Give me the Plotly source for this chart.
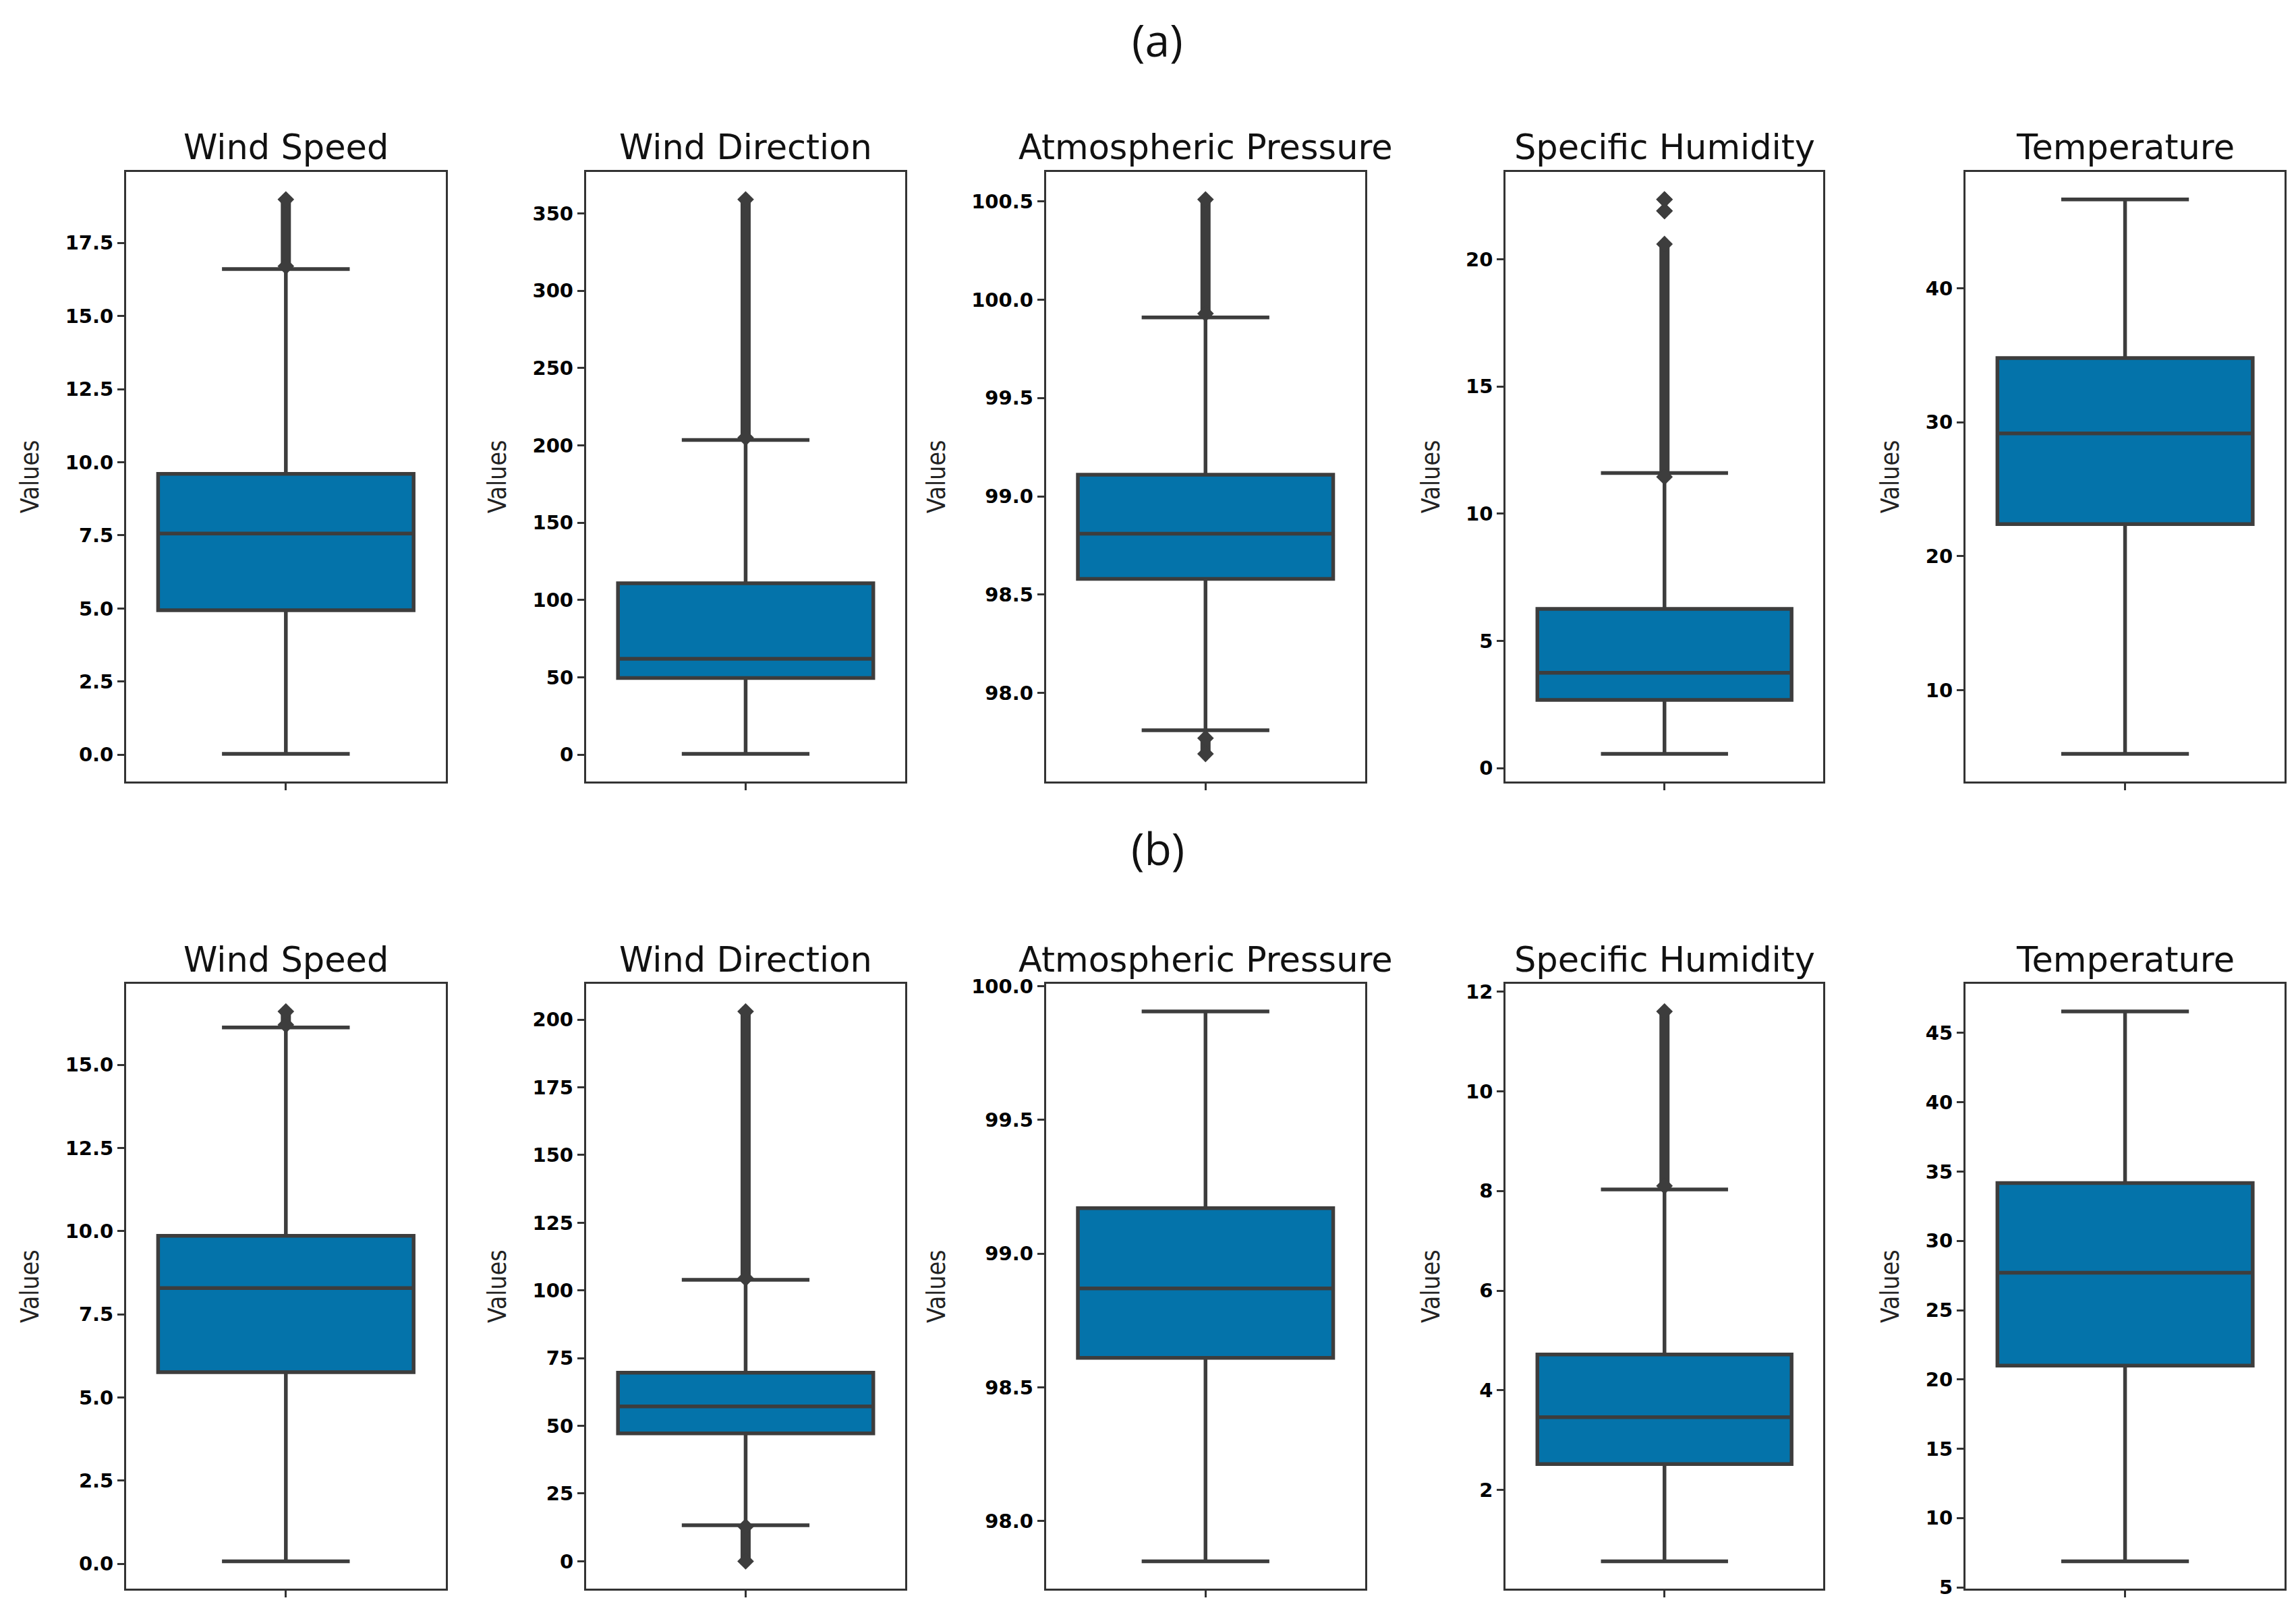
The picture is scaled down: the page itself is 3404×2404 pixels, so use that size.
import plotly.graph_objects as go

variables = ["Wind Speed", "Wind Direction", "Atmospheric Pressure", "Specific Humidity", "Temperature"]
panel_labels = ["(a)", "(b)"]
y_label = "Values"

# ---- panel (a) statistics ----
a_lower = [0.03, 0.5, 97.81, 0.56, 5.24]
a_q1 = [4.94, 49.6, 98.58, 2.68, 22.4]
a_median = [7.56, 62.0, 98.81, 3.75, 29.17]
a_q3 = [9.6, 110.8, 99.11, 6.26, 34.8]
a_upper = [16.6, 203.5, 99.91, 11.6, 46.64]
# outlier runs (low, high) per variable
a_outliers = [
    [(16.7, 18.98)],
    [(205.0, 359.0)],
    [(99.93, 100.51), (97.69, 97.77)],
    [(11.45, 20.6), (21.9, 21.9), (22.35, 22.35)],
    [],
]

# ---- panel (b) statistics ----
b_lower = [0.08, 13.3, 97.85, 0.57, 6.88]
b_q1 = [5.76, 47.2, 98.61, 2.52, 21.0]
b_median = [8.29, 57.2, 98.87, 3.46, 27.7]
b_q3 = [9.86, 69.6, 99.17, 4.72, 34.17]
b_upper = [16.12, 103.9, 99.905, 8.03, 46.55]
b_outliers = [
    [(16.2, 16.6)],
    [(104.5, 203.0), (0.0, 12.8)],
    [],
    [(8.1, 11.6)],
    [],
]

a_dtick = [2.5, 50, 0.5, 5, 10]
b_dtick = [2.5, 25, 0.5, 2, 5]
tick_formats = [".1f", ".0f", ".1f", ".0f", ".0f"]

rows = [
    dict(lower=a_lower, q1=a_q1, median=a_median, q3=a_q3, upper=a_upper, out=a_outliers, dtick=a_dtick),
    dict(lower=b_lower, q1=b_q1, median=b_median, q3=b_q3, upper=b_upper, out=b_outliers, dtick=b_dtick),
]

# ---- layout geometry (paper fractions) ----
W, H = 3404, 2404
x_domains = [(0.0526, 0.1917), (0.2529, 0.3919), (0.4532, 0.5922), (0.6534, 0.7918), (0.8537, 0.9927)]
y_domains = [(0.5212, 0.9020), (0.0172, 0.3948)]
title_y = [0.9172, 0.4101]
label_y = [0.985, 0.480]

BOX_FILL = "#0473aa"
LINE = "#3d3d3d"
FRAME = "#333333"

fig = go.Figure()
layout = dict(
    width=W, height=H,
    margin=dict(l=0, r=0, t=0, b=0),
    paper_bgcolor="white", plot_bgcolor="white",
    showlegend=False,
    annotations=[],
)

idx = 0
for r, row in enumerate(rows):
    for c in range(5):
        idx += 1
        xa = "x" if idx == 1 else f"x{idx}"
        ya = "y" if idx == 1 else f"y{idx}"
        fig.add_trace(go.Box(
            x=[0], q1=[row["q1"][c]], median=[row["median"][c]], q3=[row["q3"][c]],
            lowerfence=[row["lower"][c]], upperfence=[row["upper"][c]],
            width=0.8, whiskerwidth=0.5, boxpoints=False,
            fillcolor=BOX_FILL, line=dict(color=LINE, width=5.5),
            hoverinfo="skip", xaxis=xa, yaxis=ya,
        ))
        for lo, hi in row["out"][c]:
            fig.add_trace(go.Scatter(
                x=[0, 0], y=[lo, hi], mode="lines+markers",
                line=dict(color=LINE, width=15),
                marker=dict(symbol="diamond", size=19, color=LINE),
                hoverinfo="skip", xaxis=xa, yaxis=ya,
            ))
        vals = [row["lower"][c], row["upper"][c]] + [v for seg in row["out"][c] for v in seg]
        lo, hi = min(vals), max(vals)
        pad = 0.05 * (hi - lo)
        axis_key_x = "xaxis" if idx == 1 else f"xaxis{idx}"
        axis_key_y = "yaxis" if idx == 1 else f"yaxis{idx}"
        layout[axis_key_x] = dict(
            domain=list(x_domains[c]), anchor=ya, range=[-0.5, 0.5],
            tickvals=[0], ticktext=[""], ticks="outside", ticklen=10, tickwidth=3, tickcolor=FRAME,
            showgrid=False, zeroline=False, showline=True, mirror=True,
            linecolor=FRAME, linewidth=3, fixedrange=True,
        )
        layout[axis_key_y] = dict(
            domain=list(y_domains[r]), anchor=xa, range=[lo - pad, hi + pad],
            tick0=0, dtick=row["dtick"][c], tickformat=tick_formats[c],
            ticks="outside", ticklen=10, tickwidth=3, tickcolor=FRAME,
            tickfont=dict(family="DejaVu Sans", size=29, color="black", weight="bold"),
            showgrid=False, zeroline=False, showline=True, mirror=True,
            linecolor=FRAME, linewidth=3,
            title=dict(text=y_label, standoff=28,
                       font=dict(family="Liberation Sans Narrow, DejaVu Sans Condensed, sans-serif", size=37, color="#222222")),
        )
        layout["annotations"].append(dict(
            text=variables[c], x=sum(x_domains[c]) / 2, y=title_y[r], xref="paper", yref="paper",
            xanchor="center", yanchor="middle", showarrow=False,
            font=dict(family="DejaVu Sans", size=51, color="#111111"),
        ))
    layout["annotations"].append(dict(
        text=panel_labels[r], x=0.5018, y=label_y[r], xref="paper", yref="paper",
        xanchor="center", yanchor="middle", showarrow=False,
        font=dict(family="Open Sans", size=66, color="#111111"),
    ))

fig.update_layout(**layout)
fig.write_html("out.html")
